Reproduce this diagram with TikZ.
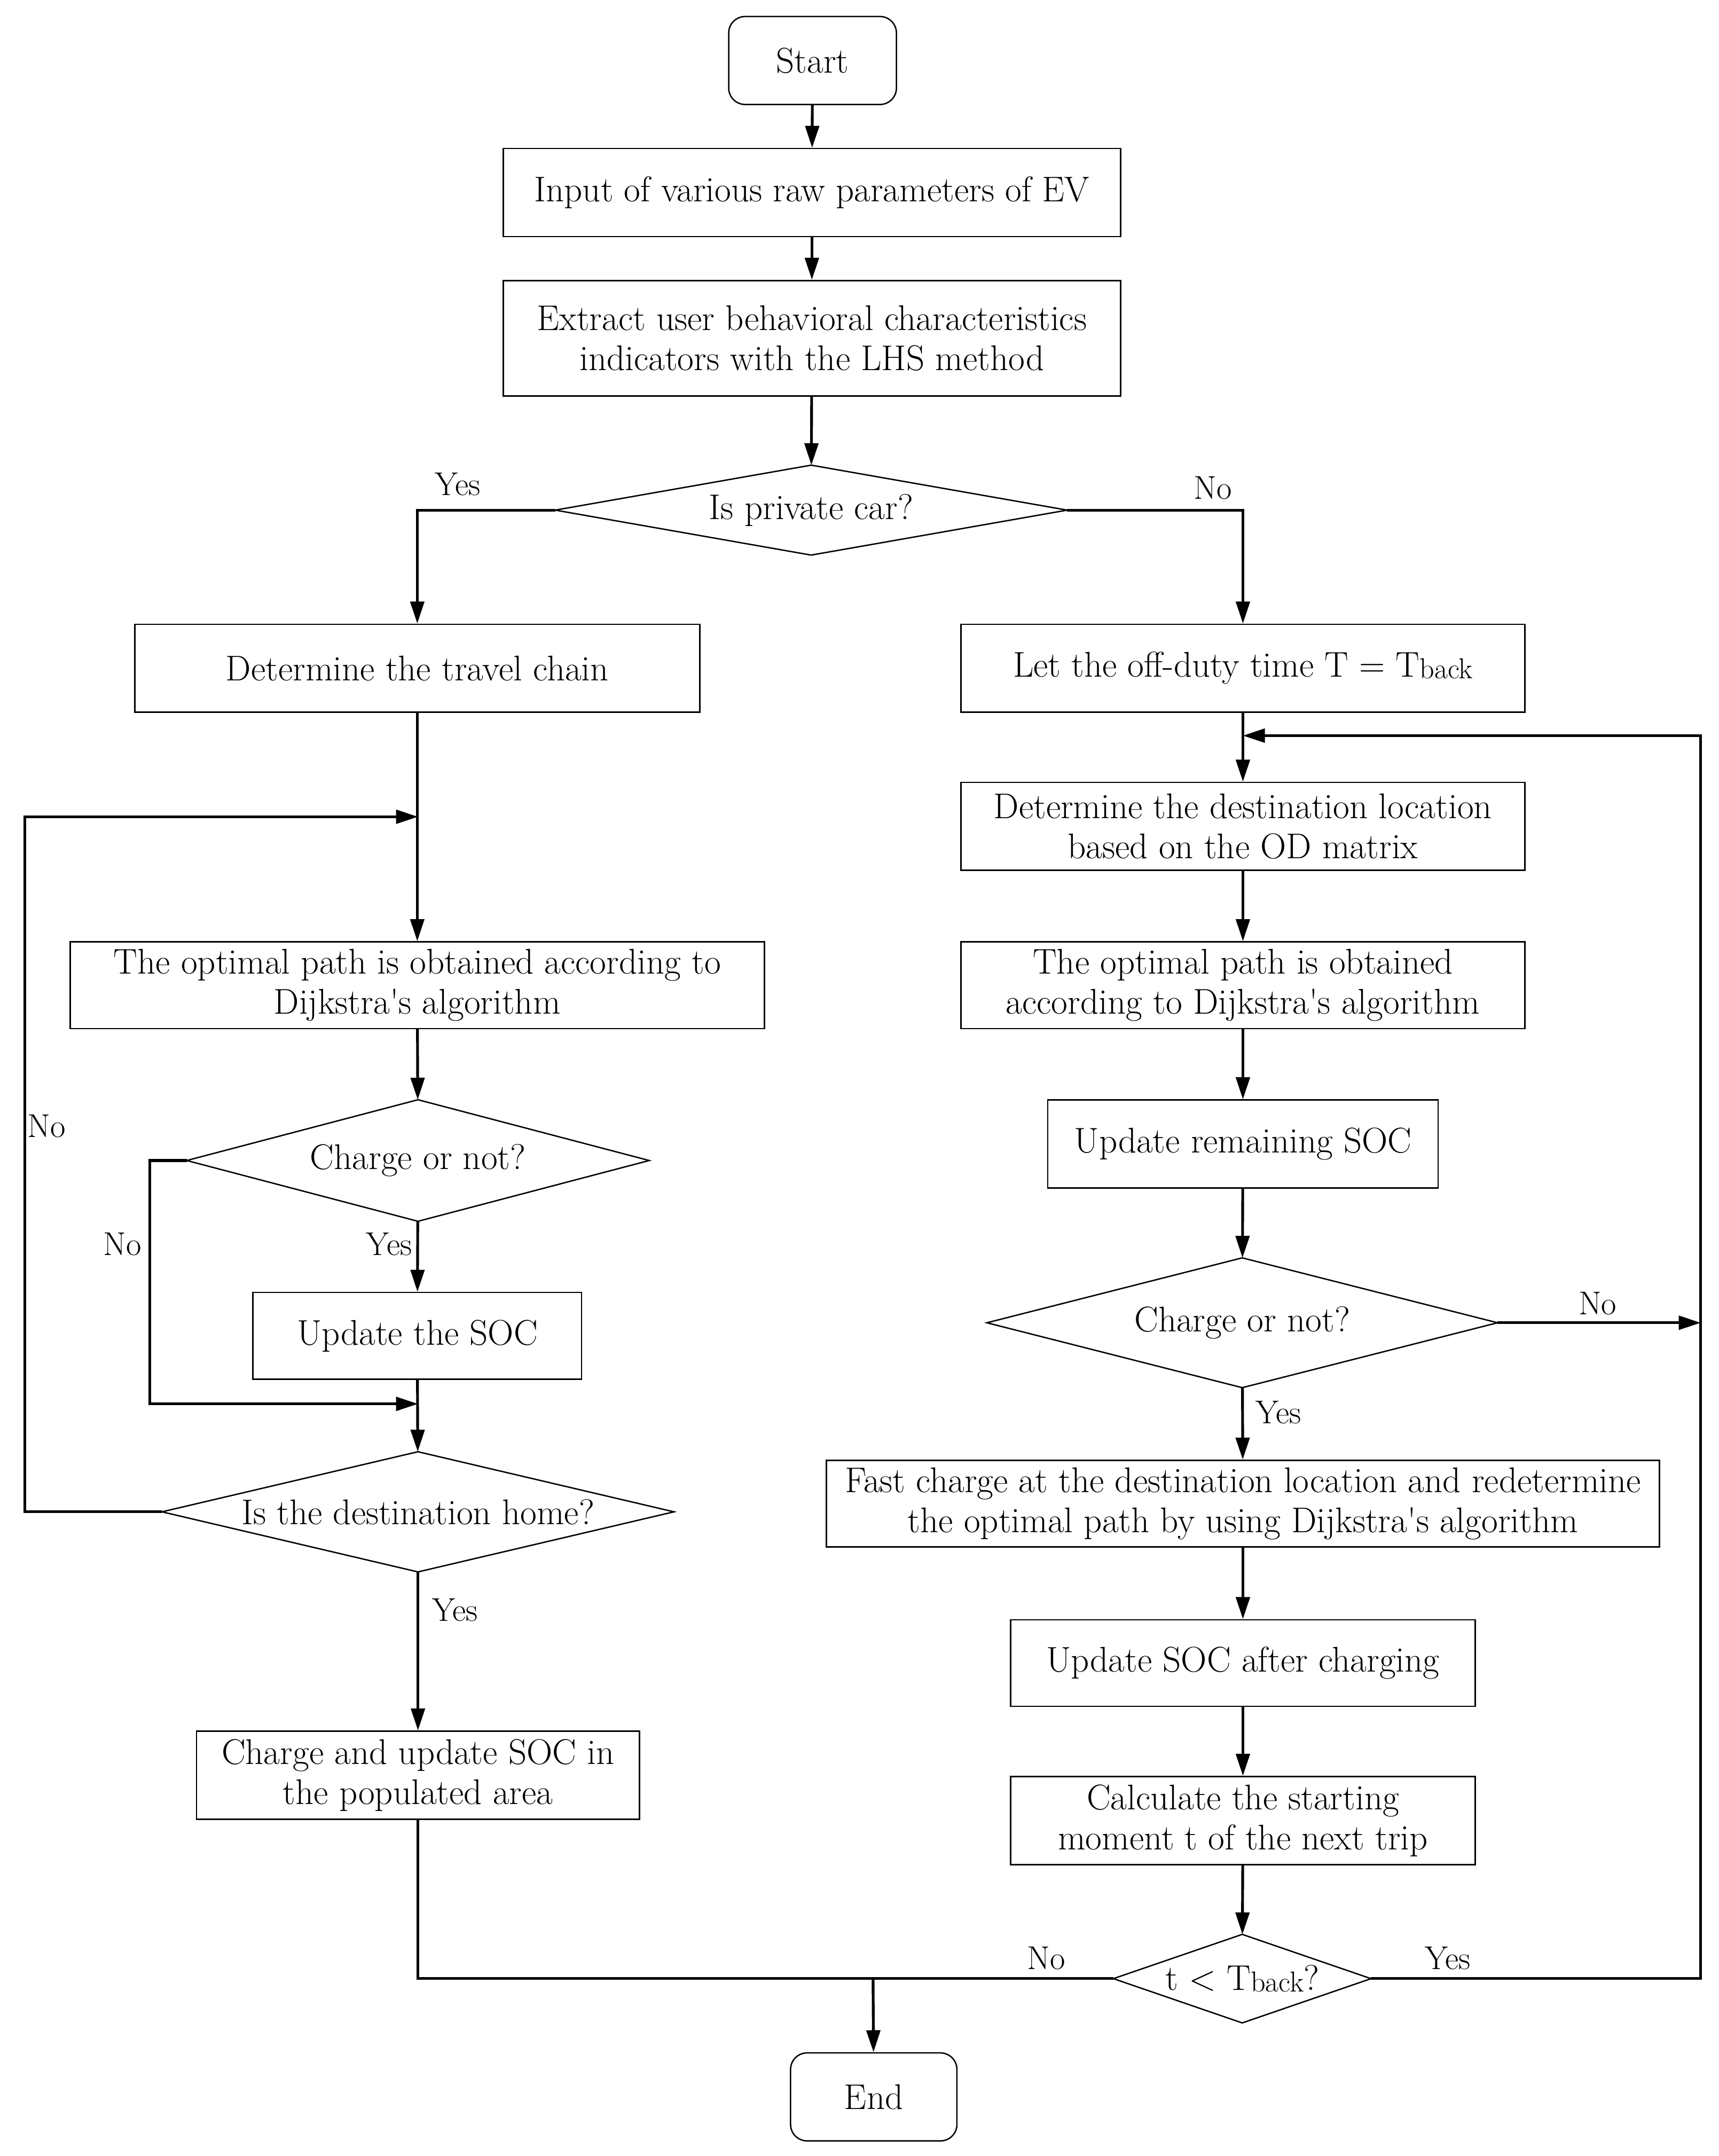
\documentclass[tikz,border=0pt]{standalone}
\usetikzlibrary{shapes.geometric,arrows.meta}
\begin{document}
\begin{tikzpicture}[x=1pt,y=-1pt,
 font=\fontsize{26}{29}\selectfont,
 box/.style={draw, line width=1pt, inner sep=0pt, align=center},
 term/.style={box, rounded corners=12pt},
 dec/.style={inner sep=0pt, align=center},
 conn/.style={line width=2pt, -{Triangle[length=16pt,width=10pt]}},
 plain/.style={line width=2pt},
 lab/.style={font=\fontsize{24}{26}\selectfont}]
\useasboundingbox (0,0) rectangle (1250,1568);
% main column
\node[term, minimum width=122, minimum height=64] (start) at (591,44) {Start};
\node[box, minimum width=449, minimum height=64] (input) at (590.5,140) {Input of various raw parameters of EV};
\node[box, minimum width=449, minimum height=84] (extract) at (590.5,246) {Extract user behavioral characteristics\\indicators with the LHS method};
\node[dec, minimum width=372, minimum height=65] (priv) at (590,371) {Is private car?};
% left column
\node[box, minimum width=411, minimum height=64] (travel) at (303.5,486) {Determine the travel chain};
\node[box, minimum width=505, minimum height=63] (lpath) at (303.5,716.5) {The optimal path is obtained according to\\Dijkstra\textquotesingle s algorithm};
\node[dec, minimum width=336, minimum height=88] (lcharge) at (304,844) {Charge or not?};
\node[box, minimum width=239, minimum height=63] (lsoc) at (303.5,971.5) {Update the SOC};
\node[dec, minimum width=372, minimum height=87] (home) at (304,1099.5) {Is the destination home?};
\node[box, minimum width=322, minimum height=64] (popul) at (304,1291) {Charge and update SOC in\\the populated area};
\node[term, minimum width=121, minimum height=64] (end) at (635.5,1525) {End};
% right column
\node[box, minimum width=410, minimum height=64] (offduty) at (904,486) {Let the off-duty time T = T\raisebox{-0.1ex}{\fontsize{21}{22}\selectfont back}};
\node[box, minimum width=410, minimum height=64] (dest) at (904,601) {Determine the destination location\\based on the OD matrix};
\node[box, minimum width=410, minimum height=63] (rpath) at (904,716.5) {The optimal path is obtained\\according to Dijkstra\textquotesingle s algorithm};
\node[box, minimum width=284, minimum height=64] (rsoc) at (904,832) {Update remaining SOC};
\node[dec, minimum width=371, minimum height=94] (rcharge) at (903.5,962) {Charge or not?};
\node[box, minimum width=606, minimum height=63] (fast) at (904,1093.5) {Fast charge at the destination location and redetermine\\the optimal path by using Dijkstra\textquotesingle s algorithm};
\node[box, minimum width=338, minimum height=63] (after) at (904,1209.5) {Update SOC after charging};
\node[box, minimum width=338, minimum height=64] (calc) at (904,1324) {Calculate the starting\\moment t of the next trip};
\node[dec, minimum width=187, minimum height=64] (tb) at (903.5,1439) {t \textless{} T\raisebox{-0.1ex}{\fontsize{21}{22}\selectfont back}?};
% diamond outlines
\foreach \n in {priv,lcharge,home,rcharge,tb}
  \draw[line width=1pt, line join=miter] (\n.west) -- (\n.north) -- (\n.east) -- (\n.south) -- cycle;
% junction coordinates
\coordinate (jl) at (304,594);
\coordinate (loopL) at (18,594);
\coordinate (noL) at (109,1021);
\coordinate (jn) at (304,1021);
\coordinate (jr) at (904,535);
\coordinate (loopR) at (1237,535);
\coordinate (rn) at (1237,962);
\coordinate (bj) at (635,1439);
% connectors
\draw[conn] (start) -- (input);
\draw[conn] (input) -- (extract);
\draw[conn] (extract) -- (priv);
\draw[conn] (priv.west) -| (travel.north);
\draw[conn] (priv.east) -| (offduty.north);
\draw[conn] (travel) -- (lpath);
\draw[conn] (home.west) -| (loopL) -- (jl);
\draw[conn] (lpath) -- (lcharge);
\draw[conn] (lcharge) -- (lsoc);
\draw[conn] (lcharge.west) -| (noL) -- (jn);
\draw[conn] (lsoc) -- (home);
\draw[conn] (home) -- (popul);
\draw[plain] (popul.south) |- (tb.west);
\draw[conn] (bj) -- (end);
\draw[conn] (tb.east) -| (loopR) -- (jr);
\draw[conn] (offduty) -- (dest);
\draw[conn] (dest) -- (rpath);
\draw[conn] (rpath) -- (rsoc);
\draw[conn] (rsoc) -- (rcharge);
\draw[conn] (rcharge.east) -- (rn);
\draw[conn] (rcharge) -- (fast);
\draw[conn] (fast) -- (after);
\draw[conn] (after) -- (calc);
\draw[conn] (calc) -- (tb);
% labels
\node[lab] (y1) at (333,352) {Yes};
\node[lab] (n1) at (882,355) {No};
\node[lab, fill=white, inner sep=1pt] (n2) at (34,819) {No};
\node[lab] (n3) at (89,905) {No};
\node[lab] (y2) at (283,905) {Yes};
\node[lab] (y3) at (331,1171) {Yes};
\node[lab] (n4) at (1162,948) {No};
\node[lab] (y4) at (930,1027) {Yes};
\node[lab] (n5) at (761,1424) {No};
\node[lab] (y5) at (1053,1424) {Yes};
\end{tikzpicture}
\end{document}
